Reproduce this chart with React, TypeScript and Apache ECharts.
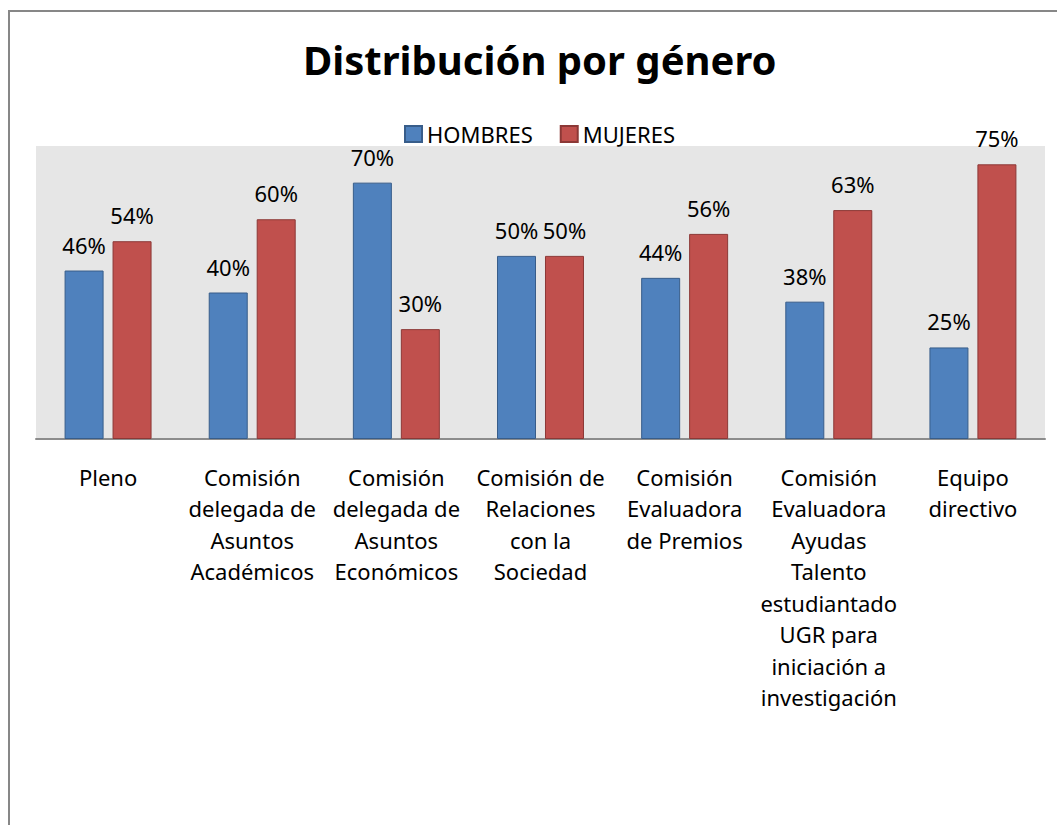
import React, { useEffect, useRef } from "react";
import * as echarts from "echarts";

const categories = [
  "Pleno",
  "Comisión\ndelegada de\nAsuntos\nAcadémicos",
  "Comisión\ndelegada de\nAsuntos\nEconómicos",
  "Comisión de\nRelaciones\ncon la\nSociedad",
  "Comisión\nEvaluadora\nde Premios",
  "Comisión\nEvaluadora\nAyudas\nTalento\nestudiantado\nUGR para\niniciación a\ninvestigación",
  "Equipo\ndirectivo",
];
const hombres = [46, 40, 70, 50, 44, 37.5, 25];
const mujeres = [54, 60, 30, 50, 56, 62.5, 75];
const seriesNames = ["HOMBRES", "MUJERES"];
const titleText = "Distribución por género";

const FONT = "'Noto Sans', 'Open Sans', sans-serif";

export default function App() {
  const ref = useRef<HTMLDivElement>(null);
  useEffect(() => {
    if (!ref.current) return;
    const chart = echarts.init(ref.current, undefined, { renderer: "svg" });
    const label = {
      show: true,
      position: "top" as const,
      distance: 15,
      fontFamily: FONT,
      fontSize: 22,
      color: "#000",
      formatter: (p: any) => Math.round(p.value) + "%",
    };
    chart.setOption({
      animation: false,
      backgroundColor: "#fff",
      title: {
        text: titleText,
        left: 303,
        top: 39,
        padding: 0,
        textStyle: { fontFamily: FONT, fontSize: 40, fontWeight: "bold", color: "#000" },
      },
      legend: {
        left: 404,
        top: 123,
        padding: 0,
        itemWidth: 17,
        itemHeight: 16,
        itemGap: 27,
        icon: "rect",
        textStyle: { fontFamily: FONT, fontSize: 22, color: "#000" },
        data: seriesNames,
      },
      graphic: [
        {
          type: "rect",
          shape: { x: 9, y: 11, width: 1200, height: 1000 },
          style: { fill: "none", stroke: "#878787", lineWidth: 2 },
          silent: true,
        },
      ],
      grid: {
        left: 36,
        right: 12,
        top: 146,
        bottom: 386,
        show: true,
        backgroundColor: "#e6e6e6",
        borderWidth: 0,
      },
      xAxis: {
        type: "category",
        data: categories,
        axisLine: { show: true, lineStyle: { color: "#8c8c8c", width: 2 } },
        axisTick: { show: false },
        axisLabel: {
          interval: 0,
          margin: 22,
          fontFamily: FONT,
          fontSize: 22,
          lineHeight: 31.5,
          color: "#000",
        },
      },
      yAxis: {
        type: "value",
        min: 0,
        max: 80,
        show: false,
        splitLine: { show: false },
      },
      series: [
        {
          name: seriesNames[0],
          type: "bar",
          data: hombres,
          barWidth: 39,
          barGap: "23%",
          itemStyle: { color: "#4f81bd", borderColor: "#385d8a", borderWidth: 1 },
          label,
        },
        {
          name: seriesNames[1],
          type: "bar",
          data: mujeres,
          barWidth: 39,
          itemStyle: { color: "#c0504d", borderColor: "#8c3836", borderWidth: 1 },
          label,
        },
      ],
    });
    return () => chart.dispose();
  }, []);
  return (
    <div
      ref={ref}
      style={{ position: "absolute", left: 0, top: 0, width: 1057, height: 825 }}
    />
  );
}
